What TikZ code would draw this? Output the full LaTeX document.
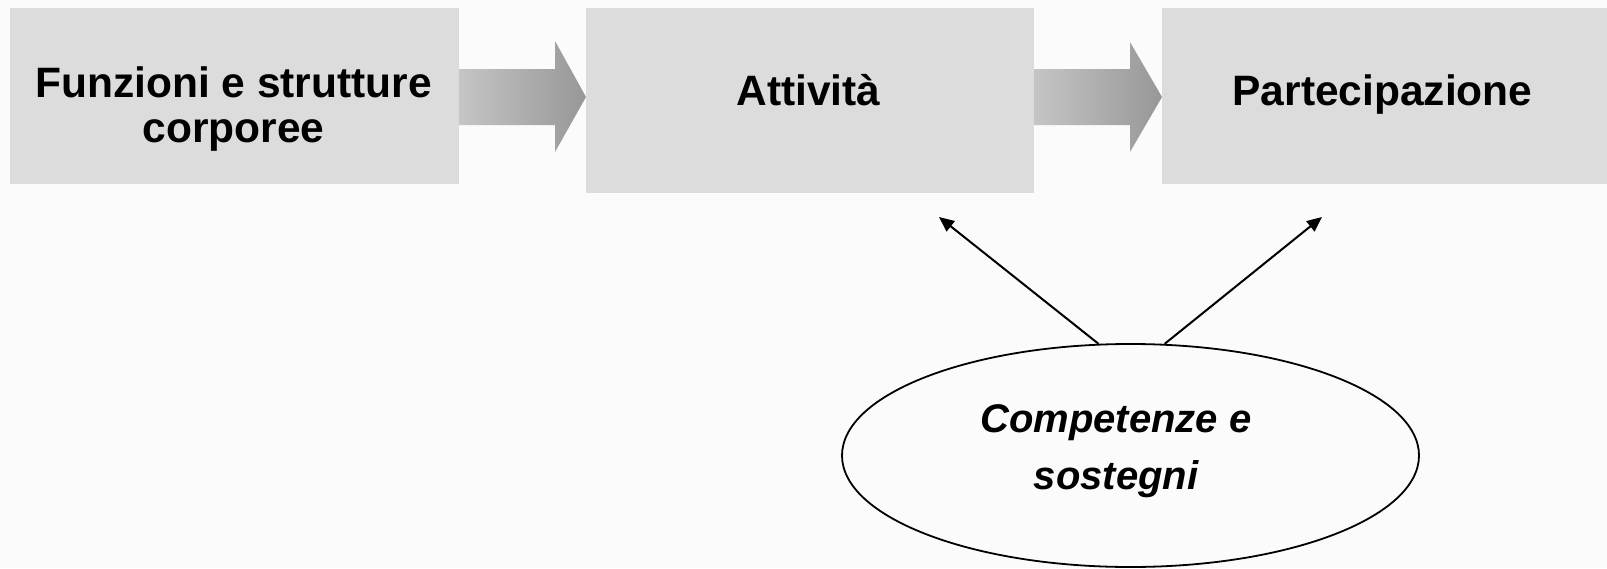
\documentclass[tikz,border=0pt]{standalone}
\usepackage{fontspec}
\setmainfont{Liberation Sans}
\usetikzlibrary{shapes.geometric,arrows.meta}
\definecolor{boxgray}{RGB}{220,220,220}
\definecolor{arrdark}{RGB}{150,150,150}
\definecolor{bgcol}{RGB}{251,251,251}
\pgfdeclarehorizontalshading{arrsh}{100bp}{color(0bp)=(boxgray); color(76bp)=(arrdark); color(100bp)=(arrdark)}
\tikzset{
  greybox/.style={rectangle, fill=boxgray, draw=none, inner sep=0pt},
  lbl/.style={font=\fontsize{42.5}{45}\selectfont\bfseries, align=center, inner sep=0pt},
  ilbl/.style={font=\fontsize{40}{57}\selectfont\bfseries\itshape, align=center, inner sep=0pt},
  blockarrow/.style={shading=arrsh, draw=none},
  conn/.style={line width=2pt, -{Triangle[length=15pt,width=13pt]}},
  oval/.style={ellipse, draw=black, line width=1.8pt, inner sep=0pt}
}
\begin{document}
\begin{tikzpicture}[x=1pt,y=-1pt]
\useasboundingbox (0,0) rectangle (1607,568);
\fill[bgcol] (0,0) rectangle (1607,568);
% boxes
\node[greybox, minimum width=449pt, minimum height=176pt] (b1) at (234.5,96) {};
\node[greybox, minimum width=448pt, minimum height=185pt] (b2) at (810,100.5) {};
\node[greybox, minimum width=445pt, minimum height=176pt] (b3) at (1384.5,96) {};
% labels
\node[lbl, anchor=base] (t1) at (233.5,142) {Funzioni e strutture\\corporee};
\node[lbl, anchor=base] (t2) at (808.5,105) {Attività};
\node[lbl, anchor=base] (t3) at (1382.5,105) {Partecipazione};
% block arrows
\shade[blockarrow] (459,69) -- (555,69) -- (555,41) -- (586,97) -- (555,152) -- (555,125) -- (459,125) -- cycle;
\shade[blockarrow] (1034,69) -- (1130,69) -- (1130,42) -- (1162,97) -- (1130,152) -- (1130,125) -- (1034,125) -- cycle;
% ellipse
\node[oval, minimum width=577pt, minimum height=223pt] (e) at (1130.5,455.5) {};
\node[ilbl] (et) at (1116,451) {Competenze e\\sostegni};
% connectors
\coordinate (p1) at (939,217);
\coordinate (p2) at (1322,217);
\draw[conn] (e.106.3) -- (p1);
\draw[conn] (e.73.7) -- (p2);
\end{tikzpicture}
\end{document}
